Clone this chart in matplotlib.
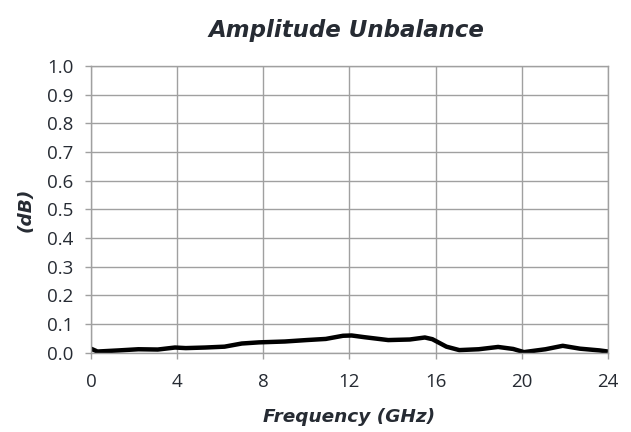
import matplotlib
matplotlib.use("Agg")
import matplotlib.pyplot as plt
import numpy as np

freq_ghz = [0.0, 0.3, 1.3, 2.2, 3.1, 3.9, 4.4, 5.3, 6.2, 7.0, 7.8, 9.0, 10.0, 10.9,
            11.7, 12.1, 12.7, 13.8, 14.8, 15.5, 15.85, 16.5, 17.1, 18.0, 18.9,
            19.6, 20.1, 21.1, 21.9, 22.7, 23.6, 24.0]
unbalance_db = [0.014, 0.004, 0.008, 0.012, 0.011, 0.018, 0.016, 0.018, 0.021, 0.032,
                0.036, 0.039, 0.044, 0.048, 0.059, 0.060, 0.054, 0.044, 0.046, 0.053,
                0.047, 0.021, 0.009, 0.012, 0.020, 0.013, 0.002, 0.012, 0.024, 0.014,
                0.008, 0.004]
x_ticks = [0, 4, 8, 12, 16, 20, 24]
y_ticks = [0.0, 0.1, 0.2, 0.3, 0.4, 0.5, 0.6, 0.7, 0.8, 0.9, 1.0]
title = "Amplitude Unbalance"
x_label = "Frequency (GHz)"
y_label = "(dB)"

text_color = "#262b33"
grid_color = "#a0a0a0"

fig = plt.figure(figsize=(6.31, 4.32), dpi=100)
ax = fig.add_axes([0.1442, 0.1836, 0.8193, 0.6636])

ax.plot(freq_ghz, unbalance_db, color="black", linewidth=3.2, solid_capstyle="butt",
        solid_joinstyle="round")

ax.set_xlim(0, 24)
ax.set_ylim(0, 1.0)
ax.set_xticks(x_ticks)
ax.set_yticks(y_ticks)
ax.set_xticklabels([str(t) for t in x_ticks])
ax.set_yticklabels([f"{t:.1f}" for t in y_ticks])
ax.grid(True, color=grid_color, linewidth=1.0)
ax.set_axisbelow(True)
for s in ax.spines.values():
    s.set_color(grid_color)
    s.set_linewidth(1.0)
ax.tick_params(axis="both", colors=grid_color, labelcolor=text_color, length=4.3,
               width=1.0, labelsize=13.5)
ax.tick_params(axis="y", pad=8.5)
ax.tick_params(axis="x", pad=10.5)
for lab in ax.get_xticklabels() + ax.get_yticklabels():
    lab.set_fontfamily("Open Sans")

fig.text(0.5 * (0.1442 + 0.9635) - 0.005, 0.93, title, ha="center", va="center",
         fontsize=16.5, fontweight="bold", fontstyle="italic", color=text_color,
         family="DejaVu Sans")
ax.set_xlabel(x_label, fontsize=13.3, fontweight="bold", fontstyle="italic",
              color=text_color, family="DejaVu Sans", labelpad=12)
ax.set_ylabel(y_label, fontsize=13.3, fontweight="bold", fontstyle="italic",
              color=text_color, family="DejaVu Sans", labelpad=9)

fig.savefig("out.png", dpi=100)
